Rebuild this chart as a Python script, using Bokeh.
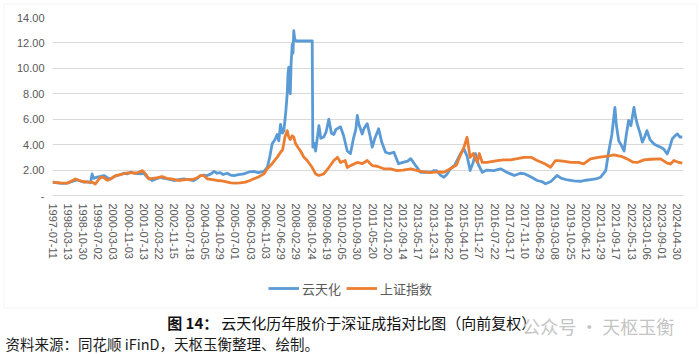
from bokeh.plotting import figure
from bokeh.models import (Range1d, FixedTicker, Legend, LegendItem, Label, BoxAnnotation)
from bokeh.embed import file_html
from bokeh.resources import INLINE

# ---- data (x in category-label units; one unit = one tick interval) ----
tick_labels = ["1997-07-11", "1998-03-13", "1998-10-30", "1999-07-02", "2000-03-03", "2000-11-03",
               "2001-07-13", "2002-03-22", "2002-11-15", "2003-07-18", "2004-03-05", "2004-10-29",
               "2005-07-01", "2006-03-03", "2006-11-03", "2007-06-29", "2008-02-29", "2008-10-24",
               "2009-06-19", "2010-02-05", "2010-09-30", "2011-05-20", "2012-01-20", "2012-09-14",
               "2013-05-17", "2013-12-31", "2014-08-22", "2015-04-10", "2015-11-27", "2016-07-22",
               "2017-03-17", "2017-11-10", "2018-06-29", "2019-03-08", "2019-10-25", "2020-06-12",
               "2021-01-29", "2021-09-17", "2022-05-13", "2023-01-06", "2023-09-01", "2024-04-30"]

yth_x = [0.0, 0.3, 0.6, 0.96, 1.3, 1.62, 1.85, 2.06, 2.3, 2.49, 2.6, 2.7, 2.93, 3.15, 3.37, 3.6, 3.8,
         4.0, 4.24, 4.45, 4.68, 4.9, 5.12, 5.4, 5.77, 5.99, 6.21, 6.4, 6.54, 6.8, 7.09, 7.3, 7.53,
         7.75, 7.96, 8.3, 8.62, 8.9, 9.27, 9.5, 9.71, 9.95, 10.15, 10.4, 10.6, 10.8, 11.0, 11.2,
         11.46, 11.7, 11.9, 12.2, 12.55, 12.9, 13.2, 13.5, 13.87, 14.09, 14.25, 14.41, 14.6, 14.74,
         14.85, 14.96, 15.08, 15.18, 15.3, 15.4, 15.45, 15.5, 15.55, 15.6, 15.66, 15.73, 15.78,
         15.83, 15.88, 15.94, 16.0, 17.04, 17.08, 17.18, 17.26, 17.48, 17.6, 17.8, 17.95, 18.13,
         18.3, 18.46, 18.6, 18.9, 19.1, 19.34, 19.55, 19.75, 19.9, 20.0, 20.1, 20.32, 20.45, 20.65,
         20.85, 20.98, 21.15, 21.4, 21.6, 21.85, 22.1, 22.4, 22.7, 23.0, 23.3, 23.5, 23.8, 24.15,
         24.5, 24.8, 25.0, 25.2, 25.45, 25.68, 25.9, 26.1, 26.4, 26.77, 27.0, 27.2, 27.4, 27.6,
         27.75, 27.95, 28.2, 28.5, 28.96, 29.4, 29.8, 30.05, 30.3, 30.7, 31.0, 31.4, 31.8, 32.1,
         32.35, 32.7, 33.1, 33.4, 33.8, 34.2, 34.65, 35.0, 35.3, 35.65, 35.96, 36.3, 36.5, 36.7,
         36.9, 37.0, 37.15, 37.3, 37.5, 37.65, 37.8, 37.95, 38.15, 38.25, 38.37, 38.55, 38.7,
         38.85, 39.0, 39.2, 39.46, 39.7, 39.9, 40.1, 40.33, 40.5, 40.66, 40.85, 41.0, 41.15, 41.32]
yth_y = [1.05, 1.0, 0.95, 0.97, 1.1, 1.23, 1.12, 1.05, 1.08, 1.0, 1.7, 1.35, 1.44, 1.5, 1.57, 1.4, 1.3,
         1.45, 1.57, 1.65, 1.75, 1.7, 1.83, 1.75, 1.7, 1.75, 1.44, 1.3, 1.18, 1.3, 1.44, 1.35, 1.3,
         1.25, 1.18, 1.25, 1.31, 1.25, 1.18, 1.35, 1.57, 1.6, 1.57, 1.7, 1.9, 1.75, 1.8, 1.65,
         1.75, 1.6, 1.57, 1.65, 1.7, 1.85, 1.9, 1.8, 1.9, 2.2, 3.0, 4.06, 4.4, 4.8,
         4.3, 5.6, 4.9, 5.1, 6.5, 8.0, 9.6, 10.1, 9.0, 8.0, 10.5, 11.9, 11.2,
         12.96, 12.4, 12.2, 12.15, 12.15, 3.8, 4.1, 3.5, 5.5, 4.5, 4.6, 5.0, 6.0,
         4.9, 4.8, 5.2, 5.4, 4.7, 3.5, 3.3, 4.5, 5.2, 6.3, 5.6, 4.84, 5.3, 5.65,
         4.6, 3.8, 4.5, 5.25, 4.2, 3.4, 3.3, 3.4, 2.5, 2.6, 2.7, 2.9, 2.4, 1.83,
         1.85, 1.83, 1.95, 1.96, 1.6, 1.44, 1.7, 2.1, 2.4, 3.3, 3.65, 3.1, 1.96, 2.6,
         3.3, 2.4, 1.83, 2.0, 1.96, 2.1, 1.83, 1.7, 1.57, 1.75, 1.7, 1.45, 1.18, 1.1,
         0.92, 1.1, 1.57, 1.35, 1.22, 1.15, 1.12, 1.2, 1.25, 1.3, 1.44, 1.96, 3.5, 4.8,
         6.93, 5.5, 4.3, 4.0, 3.5, 4.8, 5.9, 5.5, 6.93, 6.2, 5.6, 4.9, 4.2,
         4.6, 5.1, 4.4, 4.05, 3.9, 3.8, 3.66, 3.27, 3.8, 4.45, 4.7, 4.84, 4.6, 4.6]

sh_x = [0.0, 0.5, 0.96, 1.5, 1.95, 2.3, 2.6, 2.8, 3.15, 3.37, 3.6, 3.8, 4.13, 4.5, 4.8, 5.1, 5.45,
        5.7, 5.9, 6.1, 6.32, 6.6, 6.9, 7.2, 7.5, 7.8, 8.29, 8.7, 9.17, 9.5, 9.71, 9.93, 10.15,
        10.48, 10.8, 11.1, 11.35, 11.7, 12.0, 12.3, 12.66, 13.0, 13.2, 13.5, 13.87, 14.09, 14.41,
        14.6, 14.74, 14.96, 15.1, 15.25, 15.4, 15.5, 15.6, 15.73, 15.83, 15.94, 16.1, 16.27,
        16.5, 16.71, 17.04, 17.26, 17.48, 17.8, 18.13, 18.46, 18.7, 18.9, 19.2, 19.34, 19.55,
        20.0, 20.32, 20.65, 20.98, 21.3, 21.74, 22.18, 22.6, 23.0, 23.5, 24.15, 24.8, 25.2,
        25.68, 26.1, 26.5, 26.7, 27.0, 27.2, 27.4, 27.6, 27.87, 28.0, 28.2, 28.5, 29.18, 29.6,
        30.05, 30.5, 30.93, 31.4, 31.8, 32.3, 32.68, 33.0, 33.12, 33.5, 34.0, 34.5, 34.85,
        35.3, 35.8, 36.17, 36.6, 36.83, 37.05, 37.38, 37.7, 38.1, 38.37, 38.8, 39.24, 39.9,
        40.33, 40.55, 40.77, 41.1, 41.32]
sh_y = [1.05, 1.0, 0.97, 1.3, 1.1, 1.05, 1.05, 0.9, 1.44, 1.4, 1.2, 1.3, 1.57, 1.65, 1.75, 1.8, 1.75,
        1.85, 1.96, 1.7, 1.3, 1.35, 1.4, 1.49, 1.35, 1.3, 1.18, 1.25, 1.26, 1.4, 1.57, 1.57, 1.31,
        1.25, 1.18, 1.15, 1.1, 1.0, 0.97, 1.0, 1.05, 1.2, 1.31, 1.45, 1.7, 2.1, 2.5,
        2.8, 3.0, 3.4, 3.6, 4.6, 5.1, 4.6, 4.4, 4.7, 4.6, 4.1, 3.8, 3.5,
        3.0, 2.75, 2.2, 1.7, 1.57, 1.7, 2.2, 2.75, 3.0, 2.6, 2.75, 2.2, 2.35,
        2.6, 2.5, 2.75, 2.35, 2.3, 2.1, 2.1, 1.95, 2.0, 2.1, 1.9, 1.8, 1.85,
        1.83, 2.1, 2.4, 3.0, 3.8, 4.58, 3.0, 3.3, 2.6, 3.3, 2.6, 2.6, 2.75, 2.8,
        2.8, 2.9, 3.0, 3.0, 2.75, 2.5, 2.22, 2.75, 2.75, 2.7, 2.6, 2.6, 2.48,
        2.88, 3.0, 3.05, 3.14, 3.2, 3.14, 3.05, 2.88, 2.62, 2.6, 2.8, 2.85, 2.88,
        2.55, 2.48, 2.75, 2.6, 2.55]

y_ticks = [0, 2, 4, 6, 8, 10, 12, 14]

series_names = ["云天化", "上证指数"]
caption_bold = "图 14："
caption_rest = "云天化历年股价于深证成指对比图（向前复权）"
source_text = "资料来源：同花顺 iFinD，天枢玉衡整理、绘制。"
watermark = "公众号 · 天枢玉衡"

BLUE = "#5B9BD5"
ORANGE = "#ED7D31"
GRID = "#D9D9D9"
TXT = "#595959"
CJK = "Noto Sans CJK SC"
LW = 2.8

# ---------------- chart ----------------
p = figure(width=700, height=354, output_backend="svg", toolbar_location=None,
           x_range=Range1d(0, 41.4), y_range=Range1d(0, 14),
           min_border_left=52, min_border_right=17, min_border_top=17, min_border_bottom=159)
p.outline_line_color = None
p.background_fill_color = "white"
p.border_fill_color = "white"

p.line(yth_x, yth_y, line_color=BLUE, line_width=LW, line_join="round")
p.line(sh_x, sh_y, line_color=ORANGE, line_width=LW, line_join="round")

p.yaxis.ticker = FixedTicker(ticks=y_ticks)
p.yaxis.major_label_overrides = {t: ("-" if t == 0 else f"{t:.2f}") for t in y_ticks}
p.yaxis.axis_line_color = None
p.yaxis.major_tick_line_color = None
p.yaxis.minor_tick_line_color = None
p.yaxis.major_tick_out = 0
p.yaxis.major_tick_in = 0
p.yaxis.major_label_standoff = 8
p.yaxis.major_label_text_font = "Liberation Sans"
p.yaxis.major_label_text_font_size = "11px"
p.yaxis.major_label_text_color = TXT

p.xaxis.ticker = FixedTicker(ticks=list(range(len(tick_labels))))
p.xaxis.major_label_overrides = {i: s for i, s in enumerate(tick_labels)}
p.xaxis.major_label_orientation = "vertical"
p.xaxis.axis_line_color = GRID
p.xaxis.major_tick_line_color = None
p.xaxis.minor_tick_line_color = None
p.xaxis.major_tick_out = 0
p.xaxis.major_tick_in = 0
p.xaxis.major_label_standoff = 8
p.xaxis.major_label_text_font = "Liberation Sans"
p.xaxis.major_label_text_font_size = "11px"
p.xaxis.major_label_text_color = TXT

p.xgrid.grid_line_color = None
p.ygrid.grid_line_color = GRID
p.ygrid.grid_line_width = 1

# ---------------- transparent overlay: frame box, legend, captions ----------------
c = figure(width=700, height=354, output_backend="svg", toolbar_location=None,
           x_range=Range1d(0, 700), y_range=Range1d(354, 0),
           x_axis_type=None, y_axis_type=None,
           min_border_left=0, min_border_right=0, min_border_top=0, min_border_bottom=0,
           styles={"position": "absolute", "top": "0px", "left": "0px"})
c.outline_line_color = None
c.xgrid.grid_line_color = None
c.ygrid.grid_line_color = None
c.background_fill_color = None
c.border_fill_color = None

c.add_layout(BoxAnnotation(left=3.5, right=696.5, top=3.5, bottom=307.5,
                           fill_alpha=0, line_color=GRID, line_width=1))

# legend keys (renderers with no drawable points, used only for the legend swatches)
k1 = c.line(x=[0.0], y=[float("nan")], line_color=BLUE, line_width=LW)
k2 = c.line(x=[0.0], y=[float("nan")], line_color=ORANGE, line_width=LW)
legend = Legend(items=[LegendItem(label=series_names[0], renderers=[k1]),
                       LegendItem(label=series_names[1], renderers=[k2])],
                location=(268, 56.5), orientation="horizontal",
                glyph_width=31, glyph_height=18, label_height=18, label_standoff=3,
                spacing=5, padding=0, margin=0, border_line_color=None,
                background_fill_alpha=0,
                label_text_font=CJK, label_text_font_size="13px",
                label_text_color=TXT)
c.add_layout(legend, "center")

c.add_layout(Label(x=166.7, y=321.5, text=caption_bold,
                   text_font=CJK, text_font_size="15px", text_font_style="bold",
                   text_color="#111111", text_baseline="middle"))
c.add_layout(Label(x=220.7, y=321.5, text=caption_rest,
                   text_font=CJK, text_font_size="15px",
                   text_color="#111111", text_baseline="middle"))
c.add_layout(Label(x=521.7, y=325.7, text=watermark,
                   text_font=CJK, text_font_size="18px",
                   text_color="#C4C4C4", text_baseline="middle"))
c.add_layout(Label(x=5, y=343, text=source_text,
                   text_font=CJK, text_font_size="14.5px",
                   text_color="#1a1a1a", text_baseline="middle"))

open("out.html", "w").write(file_html([p, c], INLINE))
